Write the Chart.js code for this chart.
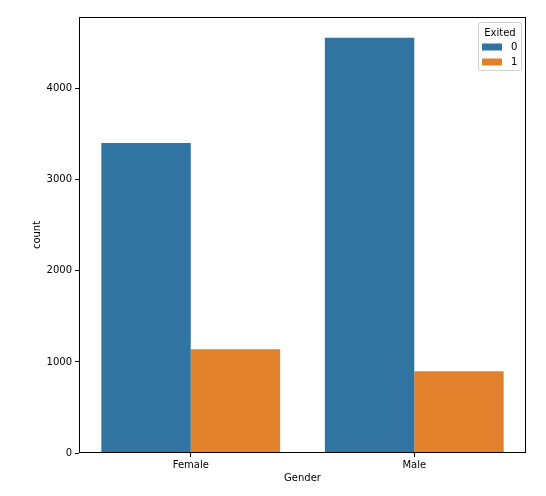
<!DOCTYPE html>
<html lang="en">
<head>
  <meta charset="UTF-8">
  <title>Exited by Gender</title>
  <script src="https://cdn.jsdelivr.net/npm/chart.js"></script>
  <style>
    html, body { margin: 0; padding: 0; background: #fff; }
    #wrap { width: 546px; height: 496px; }
  </style>
</head>
<body>
  <div id="wrap"><canvas id="grafica" width="546" height="496"></canvas></div>

  <script>
    // data
    const categories = ['Female', 'Male'];
    const exited0 = [3404, 4559];
    const exited1 = [1139, 898];
    const seriesNames = ['0', '1'];
    const yTicks = [0, 1000, 2000, 3000, 4000];
    const yMax = 4787;

    const FONT = 'DejaVu Sans';
    const colors = ['#3274a1', '#e1812c'];

    // frame + legend box like matplotlib
    const framePlugin = {
      id: 'frame',
      afterDraw(chart) {
        const c = chart.ctx, a = chart.chartArea;
        c.save();
        c.strokeStyle = '#000';
        c.lineWidth = 1;
        c.strokeRect(Math.round(a.left) + 0.5, Math.round(a.top) + 0.5,
                     Math.round(a.right - a.left) - 1, Math.round(a.bottom - a.top) - 1);

        // legend
        const w = 43, h = 48;
        const x = a.right - w - 5, y = a.top + 5;
        c.fillStyle = 'rgba(255,255,255,0.8)';
        c.strokeStyle = '#d0d0d0';
        c.beginPath();
        c.roundRect(x + 0.5, y + 0.5, w, h, 2);
        c.fill();
        c.stroke();
        c.fillStyle = '#000';
        c.font = '10px "' + FONT + '"';
        c.textAlign = 'center';
        c.textBaseline = 'middle';
        c.fillText('Exited', x + w / 2 + 0.5, y + 11);
        chart.data.datasets.forEach((ds, i) => {
          const ry = y + 25 + i * 15;
          c.fillStyle = ds.backgroundColor;
          c.fillRect(x + 4, ry - 3.5, 20, 7);
          c.fillStyle = '#000';
          c.textAlign = 'left';
          c.fillText(ds.label, x + 33, ry);
        });
        c.restore();
      }
    };

    const ctx = document.getElementById('grafica').getContext('2d');
    new Chart(ctx, {
      type: 'bar',
      data: {
        labels: categories,
        datasets: [
          { label: seriesNames[0], data: exited0, backgroundColor: colors[0] },
          { label: seriesNames[1], data: exited1, backgroundColor: colors[1] }
        ]
      },
      options: {
        responsive: false,
        animation: false,
        layout: { padding: { left: 31, top: 17, right: 20, bottom: 0 } },
        datasets: { bar: { categoryPercentage: 0.8, barPercentage: 1.0 } },
        plugins: {
          legend: { display: false },
          tooltip: { enabled: false }
        },
        scales: {
          x: {
            grid: { display: true, drawOnChartArea: false, offset: false, tickLength: 4, color: '#000' },
            border: { display: false },
            ticks: { color: '#000', font: { family: FONT, size: 10 }, padding: 2 },
            title: { display: true, text: 'Gender', color: '#000', font: { family: FONT, size: 10 }, padding: { top: 1, bottom: 12 } },
            afterFit(s) { s.height = 43; }
          },
          y: {
            min: 0,
            max: yMax,
            grid: { display: true, drawOnChartArea: false, tickLength: 4, color: '#000' },
            border: { display: false },
            ticks: { color: '#000', font: { family: FONT, size: 10 }, padding: 3, callback: v => String(v) },
            afterBuildTicks(s) { s.ticks = yTicks.map(v => ({ value: v })); },
            title: { display: true, text: 'count', color: '#000', font: { family: FONT, size: 10 }, padding: { top: 0, bottom: 4 } },
            afterFit(s) { s.width = 48; }
          }
        }
      },
      plugins: [framePlugin]
    });
  </script>
</body>
</html>
